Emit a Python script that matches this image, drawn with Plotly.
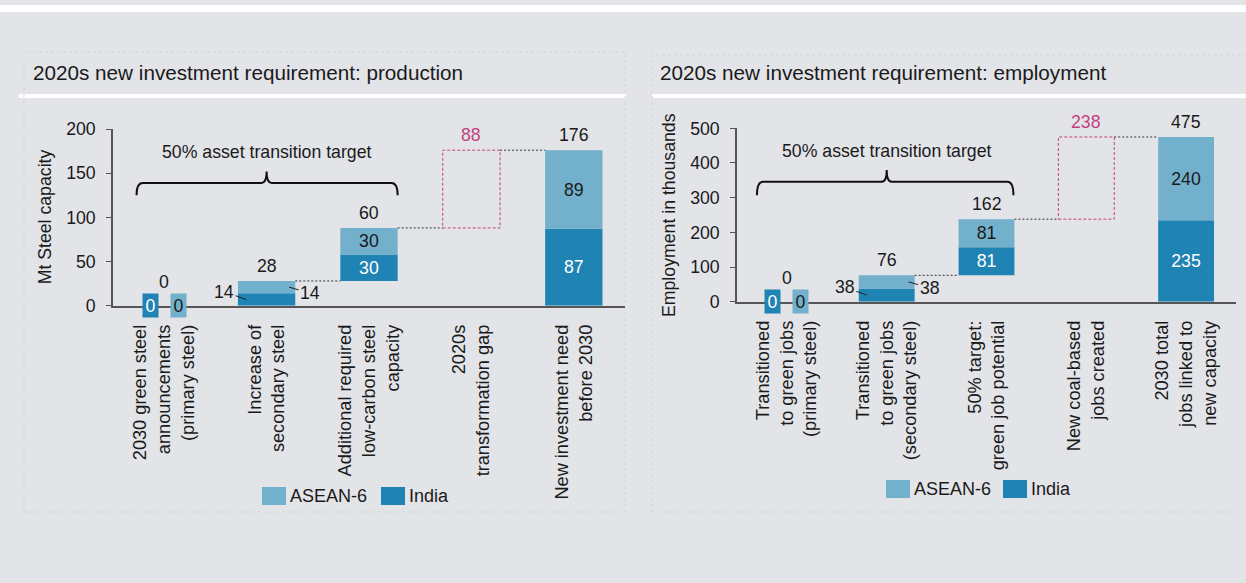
import plotly.graph_objects as go

W, H = 1246, 583
BG = "#e2e4e8"
INDIA_C = "#1f83b4"
ASEAN_C = "#72b0cb"
PINK = "#c2407f"
TXT = "#1a1a1a"
AXIS = "#555555"
FONT = "Arial, Liberation Sans, sans-serif"
FS = 17.7

# production chart (Mt steel capacity)
prod_labels = ["2030 green steel<br>announcements<br>(primary steel)",
               "Increase of<br>secondary steel",
               "Additional required<br>low-carbon steel<br>capacity",
               "2020s<br>transformation gap",
               "New investment need<br>before 2030"]
prod_india = [0, 14, 30, 0, 87]
prod_asean = [0, 14, 30, 0, 89]
prod_totals = [0, 28, 60, 88, 176]

# employment chart (thousands)
emp_labels = ["Transitioned<br>to green jobs<br>(primary steel)",
              "Transitioned<br>to green jobs<br>(secondary steel)",
              "50% target:<br>green job potential",
              "New coal-based<br>jobs created",
              "2030 total<br>jobs linked to<br>new capacity"]
emp_india = [0, 38, 81, 0, 235]
emp_asean = [0, 38, 81, 0, 240]
emp_totals = [0, 76, 162, 238, 475]


def px(x):
    return x / W


def py(y):
    return 1 - y / H


BW = 0.56  # bar width in category units
fig = go.Figure()
shapes = []
annos = []


def add_chart(n, labels, india, asean, totals, brace, xdom, ydom, yrange, dtick,
              title, title_x, line_x, ytitle, ytitle_x, legend_x, legend_y):
    xr = "x" if n == 1 else "x%d" % n
    yr = "y" if n == 1 else "y%d" % n
    cats = list(range(len(labels)))

    # waterfall bases
    bases = []
    run = 0
    for t in totals[:-1]:
        bases.append(run)
        run += t
    bases.append(0)
    gap_i = len(totals) - 2
    gap_base = bases[gap_i]
    gap_top = totals[-1]

    show = [i for i in cats if india[i] > 0 and i != 1]
    fig.add_trace(go.Bar(
        x=cats, y=india, base=bases, width=BW, marker=dict(color=INDIA_C, line_width=0),
        text=[str(v) if i in show else "" for i, v in enumerate(india)],
        textposition="inside", insidetextanchor="middle", textangle=0,
        constraintext="none", textfont=dict(color="white", size=FS, family=FONT),
        xaxis=xr, yaxis=yr, showlegend=False, name="India"))
    fig.add_trace(go.Bar(
        x=cats, y=asean, base=[b + v for b, v in zip(bases, india)], width=BW,
        marker=dict(color=ASEAN_C, line_width=0),
        text=[str(v) if i in show else "" for i, v in enumerate(asean)],
        textposition="inside", insidetextanchor="middle", textangle=0,
        constraintext="none", textfont=dict(color=TXT, size=FS, family=FONT),
        xaxis=xr, yaxis=yr, showlegend=False, name="ASEAN-6"))

    # gap box
    g0, g1 = gap_i - BW / 2, gap_i + BW / 2
    fig.add_trace(go.Scatter(
        x=[g0, g1, g1, g0, g0], y=[gap_base, gap_base, gap_top, gap_top, gap_base],
        mode="lines", line=dict(color=PINK, width=1, dash="3px,2px"),
        xaxis=xr, yaxis=yr, showlegend=False, hoverinfo="skip"))

    # connectors
    cx, cy = [], []
    for i in range(1, len(totals) - 1):
        lvl = bases[i] + totals[i] if i != gap_i else gap_top
        cx += [i + BW / 2, i + 1 - BW / 2, None]
        cy += [lvl, lvl, None]
    fig.add_trace(go.Scatter(
        x=cx, y=cy, mode="lines", line=dict(color="#333333", width=1, dash="2px,2px"),
        xaxis=xr, yaxis=yr, showlegend=False, hoverinfo="skip"))

    # zero boxes for first category
    for dx, col, fc, v in [(-14, INDIA_C, "white", india[0]), (14, ASEAN_C, TXT, asean[0])]:
        annos.append(dict(x=0, y=0, xref=xr, yref=yr, xshift=dx, text=str(v),
                          showarrow=False, bgcolor=col, width=15, height=23, borderpad=0,
                          font=dict(color=fc, size=FS, family=FONT)))

    # totals above
    for i in cats:
        if i == gap_i:
            top, col = gap_top, PINK
        else:
            top, col = bases[i] + india[i] + asean[i], TXT
        annos.append(dict(x=i, y=top, xref=xr, yref=yr, text=str(totals[i]),
                          showarrow=False, yanchor="bottom", yshift=3 if i else 12,
                          font=dict(color=col, size=FS, family=FONT)))

    # split labels with leader lines on second category
    annos.append(dict(x=1 - 0.2, y=india[1] / 2, xref=xr, yref=yr, text=str(india[1]),
                      showarrow=True, arrowhead=0, arrowwidth=1, arrowcolor="#222",
                      ax=-22, ay=-8, standoff=0, font=dict(color=TXT, size=FS, family=FONT)))
    annos.append(dict(x=1 + 0.22, y=india[1] + asean[1] / 2, xref=xr, yref=yr,
                      text=str(asean[1]), showarrow=True, arrowhead=0, arrowwidth=1,
                      arrowcolor="#222", ax=21, ay=6, standoff=0,
                      font=dict(color=TXT, size=FS, family=FONT)))

    # brace
    x0, x1, xm, yl, ye, yt, ytxt = brace
    d, d2 = 0.06, 0.05
    path = ("M {a},{ye} Q {a},{yl} {b},{yl} L {c},{yl} Q {m},{yl} {m},{yt} "
            "Q {m},{yl} {e},{yl} L {f},{yl} Q {g},{yl} {g},{ye}").format(
        a=x0, b=x0 + d, c=xm - d2, m=xm, e=xm + d2, f=x1 - d, g=x1, yl=yl, ye=ye, yt=yt)
    shapes.append(dict(type="path", path=path, xref=xr, yref=yr,
                       line=dict(color="#111", width=2)))
    annos.append(dict(x=xm, y=ytxt, xref=xr, yref=yr, text="50% asset transition target",
                      showarrow=False, font=dict(color=TXT, size=FS, family=FONT)))

    # axes
    ax_name = "xaxis" if n == 1 else "xaxis%d" % n
    ay_name = "yaxis" if n == 1 else "yaxis%d" % n
    fig.update_layout(**{
        ax_name: dict(domain=xdom, range=[-0.5, len(labels) - 0.5], anchor=yr,
                      tickvals=cats, ticktext=labels, tickangle=-90, ticks="",
                      showline=True, linecolor=AXIS, linewidth=1.5, showgrid=False,
                      zeroline=False, fixedrange=True, automargin=False,
                      ticklabelstandoff=10,
                      tickfont=dict(size=18.2, color=TXT, family=FONT)),
        ay_name: dict(domain=ydom, range=yrange, dtick=dtick, anchor=xr,
                      ticks="outside", ticklen=5, tickcolor=AXIS, showline=True,
                      linecolor=AXIS, linewidth=1.5, showgrid=False, zeroline=False,
                      fixedrange=True, automargin=False, ticklabelstandoff=7,
                      tickfont=dict(size=FS, color=TXT, family=FONT)),
    })

    # y title
    annos.append(dict(x=px(ytitle_x), y=(ydom[0] + ydom[1]) / 2, xref="paper", yref="paper",
                      text=ytitle, textangle=-90, showarrow=False,
                      xanchor="center", yanchor="middle",
                      font=dict(color=TXT, size=FS, family=FONT)))
    # panel title and underline
    annos.append(dict(x=px(title_x), y=py(73), xref="paper", yref="paper", text=title,
                      xanchor="left", yanchor="middle", showarrow=False,
                      font=dict(color=TXT, size=20.7, family=FONT)))
    shapes.append(dict(type="rect", xref="paper", yref="paper", x0=px(line_x[0]),
                       x1=px(line_x[1]), y0=py(98), y1=py(94), fillcolor="white",
                       line_width=0, layer="below"))

    # legend
    lx, ly = legend_x, legend_y
    for sx, tx, col, name in [(lx[0], lx[1], ASEAN_C, "ASEAN-6"),
                              (lx[2], lx[3], INDIA_C, "India")]:
        shapes.append(dict(type="rect", xref="paper", yref="paper", x0=px(sx),
                           x1=px(sx + 24), y0=py(ly + 9), y1=py(ly - 9),
                           fillcolor=col, line_width=0))
        annos.append(dict(x=px(tx), y=py(ly), xref="paper", yref="paper", text=name,
                          xanchor="left", yanchor="middle", showarrow=False,
                          font=dict(color=TXT, size=18, family=FONT)))


add_chart(1, prod_labels, prod_india, prod_asean, prod_totals,
          (-0.27, 2.28, 1.0, 139, 125, 152, 174),
          [px(113), px(625)], [py(305.7), py(129)], [0, 200], 50,
          "2020s new investment requirement: production", 31, (19, 626),
          "Mt Steel capacity", 45, (262, 288, 381, 407), 496)
add_chart(2, emp_labels, emp_india, emp_asean, emp_totals,
          (-0.3, 2.27, 1.0, 346, 307, 380, 435),
          [px(737), px(1236)], [py(301.7), py(128.3)], [0, 500], 100,
          "2020s new investment requirement: employment", 658, (652, 1246),
          "Employment in thousands", 669, (886, 912, 1003, 1029), 489)

# page decorations
shapes.append(dict(type="rect", xref="paper", yref="paper", x0=0, x1=1, y0=py(12), y1=py(5),
                   fillcolor="white", line_width=0, layer="below"))
for a, b, c, d in [(24, 625, 52, 512), (652, 1252, 55, 512)]:
    shapes.append(dict(type="rect", xref="paper", yref="paper", x0=px(a), x1=px(b),
                       y0=py(d), y1=py(c), line=dict(color="#d2d4d8", width=1, dash="dot"),
                       layer="below"))

fig.update_layout(
    width=W, height=H, margin=dict(l=0, r=0, t=0, b=0),
    paper_bgcolor=BG, plot_bgcolor="rgba(0,0,0,0)",
    barmode="overlay", showlegend=False,
    font=dict(family=FONT, size=FS, color=TXT),
    shapes=shapes, annotations=annos,
)

fig.write_html("out.html", config={"displayModeBar": False},
               post_script="document.body.style.margin='0';"
                           "document.body.style.overflow='hidden';")
